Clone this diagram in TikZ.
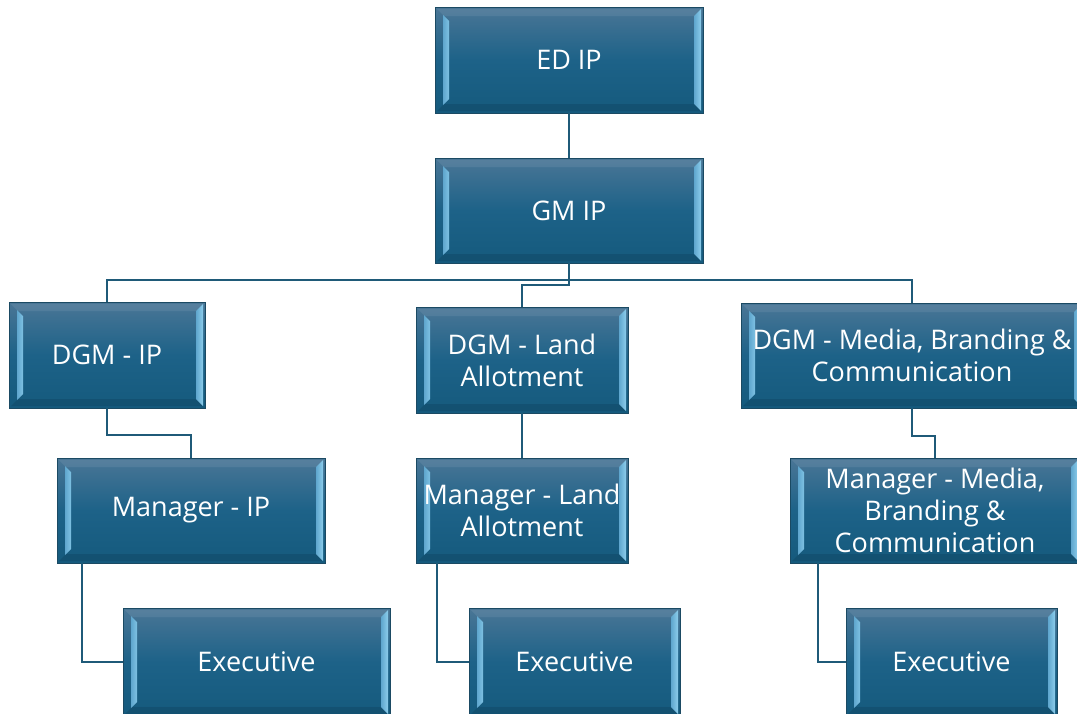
\documentclass[tikz,border=0pt]{standalone}
\usepackage{fontspec}
\setmainfont{Open Sans}
\usetikzlibrary{calc}
\definecolor{boxtop}{HTML}{4A7696}
\definecolor{boxmid}{HTML}{1D6288}
\definecolor{boxbot}{HTML}{155A7D}
\definecolor{boxline}{HTML}{1B4A63}
\definecolor{connc}{HTML}{1F5A78}
\definecolor{bevlight}{HTML}{8CCDEB}
\definecolor{bevmid}{HTML}{5FA6CE}
\tikzset{
  orgbox/.style={draw=boxline, line width=1pt, top color=boxtop, bottom color=boxbot, middle color=boxmid,
    text=white, font=\fontsize{27}{32}\selectfont, align=center, inner sep=0pt, outer sep=0pt,
    path picture={
      \coordinate (pa) at (path picture bounding box.north west);
      \coordinate (pb) at (path picture bounding box.south east);
      \shade[left color=bevmid, right color=bevlight!70!bevmid]
        ($(pa)+(8pt,-8pt)$) -- ($(pa)+(14pt,-14pt)$) -- ($(pa |- pb)+(14pt,14pt)$) -- ($(pa |- pb)+(8pt,8pt)$) -- cycle;
      \shade[left color=bevmid, right color=bevlight]
        ($(pb |- pa)+(-2pt,-2pt)$) -- ($(pb |- pa)+(-9pt,-9pt)$) -- ($(pb)+(-9pt,9pt)$) -- ($(pb)+(-2pt,2pt)$) -- cycle;
      \fill[white, opacity=0.08]
        ($(pa)+(2pt,-2pt)$) -- ($(pb |- pa)+(-2pt,-2pt)$) -- ($(pb |- pa)+(-9pt,-9pt)$) -- ($(pa)+(9pt,-9pt)$) -- cycle;
      \fill[black, opacity=0.10]
        ($(pa |- pb)+(2pt,2pt)$) -- ($(pb)+(-2pt,2pt)$) -- ($(pb)+(-9pt,9pt)$) -- ($(pa |- pb)+(9pt,9pt)$) -- cycle;
    }},
  conn/.style={draw=connc, line width=2.6pt}
}
\begin{document}
\begin{tikzpicture}[x=1pt, y=-1pt]
\useasboundingbox (0,0) rectangle (1077,713);
\clip (0,0) rectangle (1077,713);
\fill[white] (0,0) rectangle (1077,713);
\coordinate (bus) at (569,280);
\coordinate (busl) at (569,285);
\node[orgbox, minimum width=268pt, minimum height=106pt] (ed) at (569,60) {ED IP};
\node[orgbox, minimum width=268pt, minimum height=105pt] (gm) at (569,210.5) {GM IP};
\node[orgbox, minimum width=196pt, minimum height=106pt] (dgmip) at (107,355) {DGM - IP};
\node[orgbox, minimum width=212pt, minimum height=106pt] (dgml) at (522,360) {DGM - Land\\Allotment};
\node[orgbox, minimum width=342pt, minimum height=105pt] (dgmm) at (912,355.5) {DGM - Media, Branding \&\\Communication};
\node[orgbox, minimum width=268pt, minimum height=105pt] (mgrip) at (191,510.5) {Manager - IP};
\node[orgbox, minimum width=212pt, minimum height=105pt] (mgrl) at (522,510.5) {Manager - Land\\Allotment};
\node[orgbox, minimum width=290pt, minimum height=105pt] (mgrm) at (935,510.5) {Manager - Media,\\Branding \&\\Communication};
\node[orgbox, minimum width=267pt, minimum height=108pt] (ex1) at (256.5,662) {Executive};
\node[orgbox, minimum width=211pt, minimum height=108pt] (ex2) at (574.5,662) {Executive};
\node[orgbox, minimum width=211pt, minimum height=108pt] (ex3) at (951.5,662) {Executive};
\draw[conn] (ed.south) -- (gm.north);
\draw[conn] (gm.south) -- (bus);
\draw[conn] (bus) -| (dgmip.north);
\draw[conn] (bus) -| (dgmm.north);
\draw[conn] (gm.south) -- (busl) -| (dgml.north);
\draw[conn] (dgmip.south) -- ++(0,27) -| (mgrip.north);
\draw[conn] (dgml.south) -- (mgrl.north);
\draw[conn] (dgmm.south) -- ++(0,28) -| (mgrm.north);
\draw[conn] ($(mgrip.south west)+(25,0)$) |- (ex1.west);
\draw[conn] ($(mgrl.south west)+(21,0)$) |- (ex2.west);
\draw[conn] ($(mgrm.south west)+(28,0)$) |- (ex3.west);
\end{tikzpicture}
\end{document}
